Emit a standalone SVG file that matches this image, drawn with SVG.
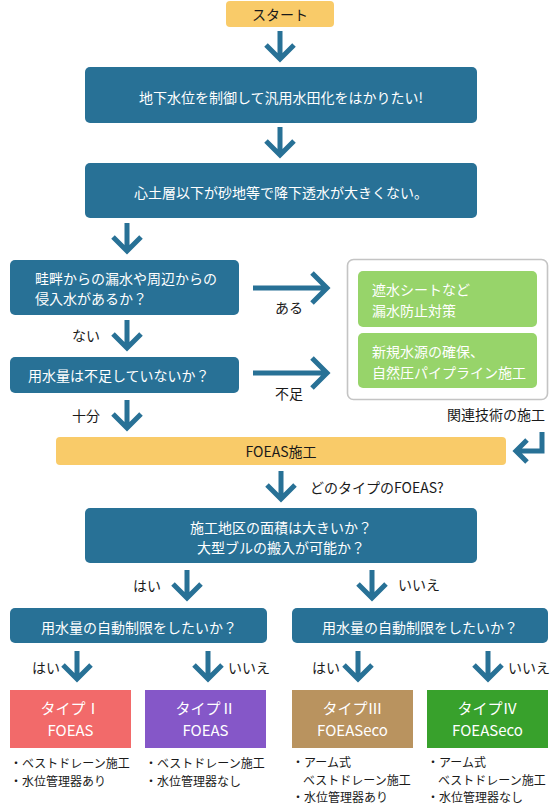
<svg xmlns="http://www.w3.org/2000/svg" xmlns:xlink="http://www.w3.org/1999/xlink" width="560" height="805" viewBox="0 0 560 805">
<style>
text{font-family:"Noto Sans CJK JP","Noto Sans",sans-serif;dominant-baseline:central}
tspan{dominant-baseline:central}
.w{fill:#ffffff;font-size:14px}
.d{fill:#1a1a1a;font-size:14px}
.b{fill:#1a1a1a;font-size:12px}
.t{fill:#ffffff;font-size:15px;text-anchor:middle}
.c{text-anchor:middle}
.blue{fill:#287196}
.yel{fill:#F9CB69}
.grn{fill:#97D46A}
.arr{fill:none;stroke:#287196;stroke-width:5;stroke-linejoin:miter;stroke-miterlimit:4}
</style>
<defs>
<path id="ad" d="M0,0 V27 M-14,14 L0,28 L14,14"/>
<path id="ar" d="M0,0 H74 M59,-15 L74,0 L59,15"/>
</defs>

<g id="connectors" class="arr">
<use xlink:href="#ad" href="#ad" x="280" y="31"/>
<use xlink:href="#ad" href="#ad" x="280" y="127"/>
<use xlink:href="#ad" href="#ad" x="127" y="223"/>
<use xlink:href="#ad" href="#ad" x="127" y="320"/>
<use xlink:href="#ad" href="#ad" x="127" y="400"/>
<use xlink:href="#ad" href="#ad" x="281" y="471"/>
<use xlink:href="#ad" href="#ad" x="187" y="570"/>
<use xlink:href="#ad" href="#ad" x="372" y="570"/>
<use xlink:href="#ad" href="#ad" x="77" y="651"/>
<use xlink:href="#ad" href="#ad" x="208" y="651"/>
<use xlink:href="#ad" href="#ad" x="358" y="651"/>
<use xlink:href="#ad" href="#ad" x="488" y="651"/>
<use xlink:href="#ar" href="#ar" x="253" y="288"/>
<use xlink:href="#ar" href="#ar" x="253" y="373"/>
<path d="M542,432 V451 H516 M527,440 L516,451 L527,462"/>
</g>

<g id="labels">
<text class="d" x="275" y="307">ある</text>
<text class="d" x="275" y="393">不足</text>
<text class="d" x="72" y="335">ない</text>
<text class="d" x="72" y="415">十分</text>
<text class="d" x="447" y="414">関連技術の施工</text>
<text class="d" x="310" y="487">どのタイプのFOEAS?</text>
<text class="d" x="133" y="585">はい</text>
<text class="d" x="398" y="584">いいえ</text>
<text class="d" x="32" y="667">はい</text>
<text class="d" x="228" y="667">いいえ</text>
<text class="d" x="312" y="667">はい</text>
<text class="d" x="508" y="667">いいえ</text>
</g>

<g id="start">
<rect class="yel" x="226" y="1" width="108" height="26" rx="4"/>
<text class="d c" x="280" y="14">スタート</text>
</g>

<g id="q1">
<rect class="blue" x="85" y="67" width="392" height="56" rx="5"/>
<text class="w c" x="281" y="97">地下水位を制御して汎用水田化をはかりたい!</text>
</g>

<g id="q2">
<rect class="blue" x="85" y="163" width="392" height="55" rx="5"/>
<text class="w c" x="281" y="192">心土層以下が砂地等で降下透水が大きくない。</text>
</g>

<g id="q3">
<rect class="blue" x="10" y="260" width="229" height="55" rx="5"/>
<text class="w" x="35" y="277.5">畦畔からの漏水や周辺からの<tspan x="35" dy="20.5">侵入水があるか？</tspan></text>
</g>

<g id="q4">
<rect class="blue" x="10" y="357" width="229" height="36" rx="5"/>
<text class="w" x="28" y="375">用水量は不足していないか？</text>
</g>

<g id="related">
<rect x="347.5" y="259.5" width="200" height="140" rx="6" fill="#ffffff" stroke="#C4C4C4" stroke-width="1.6"/>
</g>

<g id="rel1">
<rect class="grn" x="358" y="271" width="179" height="56" rx="5"/>
<text class="w" x="372" y="289">遮水シートなど<tspan x="372" dy="21">漏水防止対策</tspan></text>
</g>

<g id="rel2">
<rect class="grn" x="358" y="333" width="179" height="55" rx="5"/>
<text class="w" x="372" y="351">新規水源の確保、<tspan x="372" dy="21">自然圧パイプライン施工</tspan></text>
</g>

<g id="foeas">
<rect class="yel" x="56" y="437" width="450" height="28" rx="4"/>
<text class="d c" x="281" y="451">FOEAS施工</text>
</g>

<g id="q5">
<rect class="blue" x="85" y="508" width="392" height="55" rx="5"/>
<text class="w c" x="281" y="526.5">施工地区の面積は大きいか？<tspan x="281" dy="20.5">大型ブルの搬入が可能か？</tspan></text>
</g>

<g id="q6">
<rect class="blue" x="10" y="608" width="257" height="35" rx="5"/>
<text class="w c" x="139" y="627">用水量の自動制限をしたいか？</text>
</g>

<g id="q7">
<rect class="blue" x="292" y="608" width="256" height="35" rx="5"/>
<text class="w c" x="420" y="627">用水量の自動制限をしたいか？</text>
</g>

<g id="type1">
<rect x="10" y="690" width="121" height="58" fill="#F26A6A"/>
<text class="t" x="70.5" y="707">タイプⅠ<tspan x="70.5" dy="22">FOEAS</tspan></text>
<text class="b" x="10" y="762">・ベストドレーン施工<tspan x="10" dy="17.5">・水位管理器あり</tspan></text>
</g>

<g id="type2">
<rect x="145" y="690" width="121" height="58" fill="#8557C8"/>
<text class="t" x="205.5" y="707">タイプⅡ<tspan x="205.5" dy="22">FOEAS</tspan></text>
<text class="b" x="145" y="762">・ベストドレーン施工<tspan x="145" dy="17.5">・水位管理器なし</tspan></text>
</g>

<g id="type3">
<rect x="292" y="690" width="121" height="58" fill="#B9935F"/>
<text class="t" x="352.5" y="707">タイプⅢ<tspan x="352.5" dy="22">FOEASeco</tspan></text>
<text class="b" x="292" y="761">・アーム式<tspan x="303" dy="17.5">ベストドレーン施工</tspan><tspan x="292" dy="17.5">・水位管理器あり</tspan></text>
</g>

<g id="type4">
<rect x="427" y="690" width="121" height="58" fill="#38A12C"/>
<text class="t" x="487.5" y="707">タイプⅣ<tspan x="487.5" dy="22">FOEASeco</tspan></text>
<text class="b" x="427" y="761">・アーム式<tspan x="438" dy="17.5">ベストドレーン施工</tspan><tspan x="427" dy="17.5">・水位管理器なし</tspan></text>
</g>
</svg>
